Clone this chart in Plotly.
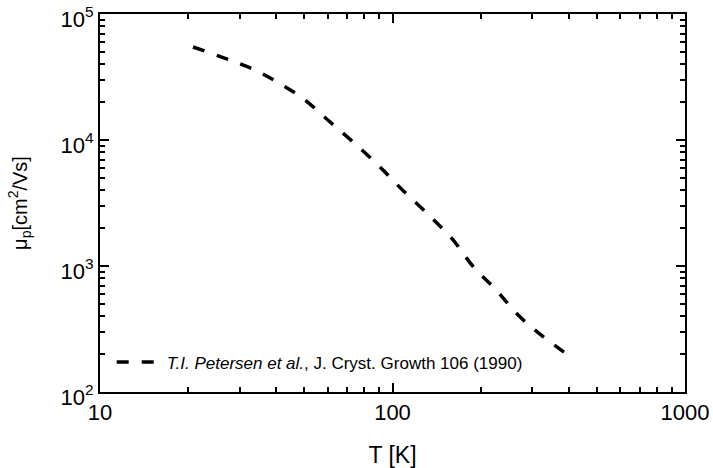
import plotly.graph_objects as go

# Data (T in K, hole mobility in cm^2/Vs)
T_K = [20.8, 27.8, 33.9, 40.9, 49.8, 60.1, 73.3, 89.9, 109, 133, 160, 188, 226, 271, 329, 398]
mu_p = [54700, 43100, 35900, 28300, 21100, 14400, 9640, 6220, 3940, 2540, 1640, 1000, 646, 401, 273, 197]

x_tickvals = [10, 100, 1000]
x_ticktext = ["10", "100", "1000"]
y_tickvals = [1e2, 1e3, 1e4, 1e5]
y_ticktext = ["10<sup>2</sup>", "10<sup>3</sup>", "10<sup>4</sup>", "10<sup>5</sup>"]
x_minor = [20, 30, 40, 50, 60, 70, 80, 90, 200, 300, 400, 500, 600, 700, 800, 900]
y_minor = [m * 10 ** e for e in (2, 3, 4) for m in range(2, 10)]

legend_name = "<i>T.I. Petersen et al.</i>, J. Cryst. Growth 106 (1990)"

FONT = "Liberation Sans, Arial, Helvetica, sans-serif"

fig = go.Figure()
fig.add_trace(go.Scatter(
    x=T_K, y=mu_p, mode="lines", name=legend_name,
    line=dict(color="black", width=3.5, dash="12px,13px", shape="spline"),
))

axis_common = dict(
    type="log", showline=True, linecolor="black", linewidth=2, mirror="allticks",
    ticks="inside", ticklen=9, tickwidth=2, tickcolor="black", showgrid=False,
    zeroline=False, automargin=False, ticklabeloverflow="allow",
    tickfont=dict(family=FONT, size=22, color="black"),
)

fig.update_xaxes(
    **axis_common, range=[1 - 1e-6, 3 + 1e-6], tickmode="array", tickvals=x_tickvals, ticktext=x_ticktext,
    minor=dict(tickmode="array", tickvals=x_minor, ticks="inside", ticklen=5, tickwidth=2, tickcolor="black", showgrid=False),
    title=dict(text="T [K]", font=dict(family=FONT, size=23, color="black"), standoff=22),
)
fig.update_yaxes(
    **axis_common, range=[2 - 1e-6, 5 + 1e-6], tickmode="array", tickvals=y_tickvals, ticktext=y_ticktext,
    ticklabelshift=5,
    minor=dict(tickmode="array", tickvals=y_minor, ticks="inside", ticklen=5, tickwidth=2, tickcolor="black", showgrid=False),
    title=dict(text="μ<sub>p</sub>[cm<sup>2</sup>/Vs]", font=dict(family=FONT, size=20, color="black"), standoff=28),
)

fig.update_layout(
    template="none",
    width=713, height=468,
    margin=dict(l=100, r=28, t=14, b=76, autoexpand=False),
    paper_bgcolor="white", plot_bgcolor="white",
    font=dict(family=FONT, color="black"),
    showlegend=True,
    legend=dict(x=0.02, y=0.078, xanchor="left", yanchor="middle", itemwidth=45,
                bgcolor="rgba(0,0,0,0)", font=dict(family=FONT, size=17, color="black")),
)

fig.write_html("out.html")
